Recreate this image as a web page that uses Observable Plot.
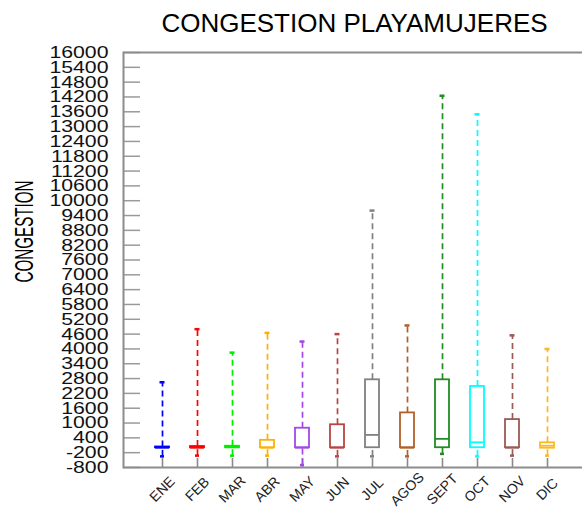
<!DOCTYPE html>
<html>
<head>
<meta charset="utf-8">
<script src="https://cdn.jsdelivr.net/npm/d3@7"></script>
<script src="https://cdn.jsdelivr.net/npm/@observablehq/plot@0.6"></script>
<style>
  body { margin: 0; overflow: hidden; background: #fff; font-family: "Liberation Sans", Arial, sans-serif; }
  #head { position: relative; height: 40px; width: 582px; }
  #head div { position: absolute; left: 123px; width: 463px; top: 10px; text-align: center;
              font-size: 26px; line-height: 26px; color: #000; white-space: nowrap; }
</style>
</head>
<body>
<div id="head"><div>CONGESTION PLAYAMUJERES</div></div>
<div id="chart"></div>
<script>
// Monthly congestion distribution at Playa Mujeres (box-and-whisker summary)
const months = ["ENE", "FEB", "MAR", "ABR", "MAY", "JUN", "JUL", "AGOS", "SEPT", "OCT", "NOV", "DIC"];
const whiskerHigh   = [2650, 4800, 3850, 4650, 4300, 4600, 9600, 4950, 14250, 13500, 4550, 4000];
const upperQuartile = [30, 50, 60, 300, 790, 930, 2750, 1410, 2750, 2480, 1140, 200];
const medians       = [0, 0, 20, 0, 0, 0, 520, 0, 360, 220, 0, 80];
const lowerQuartile = [0, 0, 0, 0, 0, 0, 0, 0, 0, 0, 0, -20];
const whiskerLow    = [-350, -320, -320, -320, -700, -350, -350, -350, -250, -350, -320, -320];
const colors = ["#0000ff", "#ff0000", "#00ee00", "#ffb000", "#a347e6", "#b84545",
                "#808080", "#b0602a", "#228b22", "#00ffff", "#9c5a55", "#ffb820"];
const yTicks = d3.range(-800, 16001, 600);

const rows = months.map((m, i) => ({
  month: m,
  hi: whiskerHigh[i],
  q3: upperQuartile[i],
  med: medians[i],
  q1: lowerQuartile[i],
  lo: whiskerLow[i],
  color: colors[i]
}));

const W = 582, H = 468, mL = 123, mR = -4, mT = 12, mB = 41;
const frameW = W - mL - mR;
const frameH = H - mT - mB;

const plot = Plot.plot({
  width: W,
  height: H,
  marginLeft: mL,
  marginRight: mR,
  marginTop: mT,
  marginBottom: mB,
  style: { fontFamily: "Liberation Sans, Arial, sans-serif", background: "white", color: "#000" },
  x: { domain: months, paddingInner: 0.607, paddingOuter: 0.8035, axis: null },
  y: { domain: [-800, 16000] },
  marks: [
    // inward tick marks on the left and bottom axes
    Plot.ruleY(yTicks, { y: d => d, insetRight: frameW - 17, stroke: "#9a9a9a", strokeWidth: 1.5 }),
    Plot.ruleX(months, { x: d => d, insetTop: frameH - 9, stroke: "#8a8a8a", strokeWidth: 1.6 }),
    Plot.frame({ stroke: "#8c8c8c", strokeWidth: 2 }),
    Plot.axisY({ ticks: yTicks, tickSize: 0, tickPadding: 15, tickFormat: d => String(d),
                 fontSize: 17, fill: "#111", label: null }),
    // whiskers
    Plot.ruleX(rows, { x: "month", y1: "q3", y2: "hi", stroke: "color", strokeWidth: 1.7, strokeDasharray: "6,4" }),
    Plot.ruleX(rows, { x: "month", y1: "lo", y2: "q1", stroke: "color", strokeWidth: 1.7, strokeDasharray: "6,4" }),
    Plot.tickY(rows, { x: "month", y: "hi", stroke: "color", strokeWidth: 2.5, inset: 4.5 }),
    Plot.tickY(rows, { x: "month", y: "lo", stroke: "color", strokeWidth: 2.5, inset: 5 }),
    // boxes and medians
    Plot.barY(rows, { x: "month", y1: "q1", y2: "q3", fill: "white", stroke: "color", strokeWidth: 1.8 }),
    Plot.tickY(rows, { x: "month", y: "med", stroke: "color", strokeWidth: 1.8 }),
    // month labels and axis title
    Plot.text(months, { x: d => d, text: d => d, frameAnchor: "bottom", dy: 25, dx: 3, rotate: -45,
                        textAnchor: "middle", fontSize: 14, fill: "#222" }),
    Plot.text(["CONGESTION"], { text: d => d, frameAnchor: "left", dx: -99, dy: 22.5, rotate: -90,
                                fontSize: 25, fill: "#000" })
  ]
});

document.getElementById("chart").append(plot);

// widen the tick labels and condense the axis title
d3.select(plot).selectAll('[aria-label="y-axis tick label"] text').each(function () {
  const w = this.getComputedTextLength();
  this.setAttribute("textLength", w * 1.25);
  this.setAttribute("lengthAdjust", "spacingAndGlyphs");
});
d3.select(plot).selectAll("text").filter(function () { return this.textContent === "CONGESTION"; })
  .attr("textLength", 102).attr("lengthAdjust", "spacingAndGlyphs");
</script>
</body>
</html>
